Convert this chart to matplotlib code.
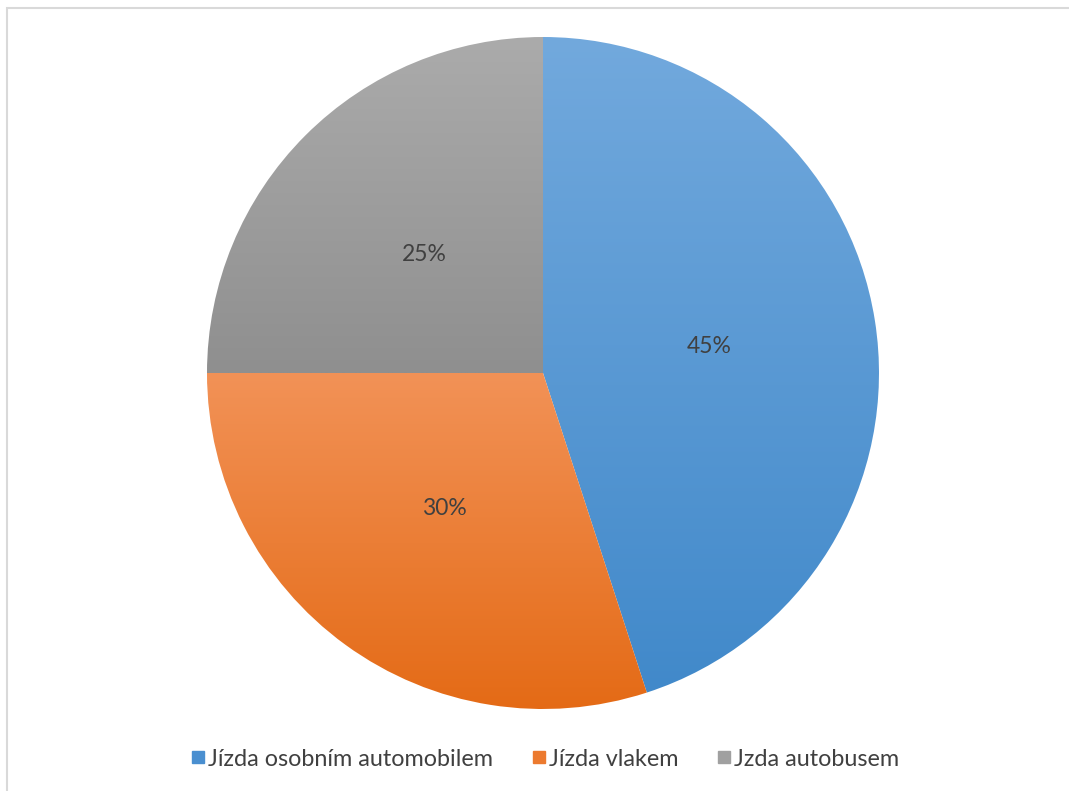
import numpy as np
import matplotlib.pyplot as plt
from matplotlib.colors import LinearSegmentedColormap
from matplotlib.patches import Rectangle
from matplotlib.lines import Line2D

labels = ['Jízda osobním automobilem', 'Jízda vlakem', 'Jzda autobusem']
values = [45, 30, 25]
# top / bottom colours of each slice gradient
top_colors = ['#72A9DD', '#F29257', '#ABABAB']
bottom_colors = ['#4189CA', '#E46A15', '#8F8F8F']
legend_colors = ['#4A8FD0', '#EC7A2F', '#A0A0A0']

plt.rcParams['font.family'] = ['Lato', 'DejaVu Sans']

W, H = 1069, 791
fig = plt.figure(figsize=(W / 100, H / 100), dpi=100)

# light border round the chart area (right/bottom edges run off the image)
fig.patches.append(Rectangle((7 / W, -0.1), 1.2, (H - 8) / H + 0.1, transform=fig.transFigure,
                             fill=False, edgecolor='#D9D9D9', lw=1.5))

cx, cy, r = 543, H - 373, 336
ax = fig.add_axes([(cx - r) / W, (cy - r) / H, 2 * r / W, 2 * r / H])
wedges, texts, autotexts = ax.pie(values, startangle=90, counterclock=False, radius=1,
                                  autopct='%d%%', pctdistance=0.5,
                                  textprops=dict(color='#404040', fontsize=16.5))
ax.set_xlim(-1, 1)
ax.set_ylim(-1, 1)
ax.set_aspect('equal')
ax.axis('off')

grad = np.linspace(0, 1, 256).reshape(-1, 1)
for w, c0, c1 in zip(wedges, top_colors, bottom_colors):
    w.set_facecolor('none')
    w.set_edgecolor('none')
    verts = w.get_path().vertices
    x0, x1 = verts[:, 0].min(), verts[:, 0].max()
    y0, y1 = verts[:, 1].min(), verts[:, 1].max()
    cmap = LinearSegmentedColormap.from_list('g', [c0, c1])
    im = ax.imshow(grad, cmap=cmap, extent=[x0, x1, y0, y1], origin='upper',
                   aspect='auto', zorder=1)
    im.set_clip_path(w)
for t in autotexts:
    t.set_zorder(3)
ax.set_xlim(-1, 1)
ax.set_ylim(-1, 1)

handles = [Line2D([], [], marker='s', linestyle='none', markersize=8,
                  markerfacecolor=c, markeredgecolor=c) for c in legend_colors]
fig.legend(handles, labels, loc='center', bbox_to_anchor=(544 / W, 1 - 759 / H),
           ncol=3, frameon=False, fontsize=16.8, handletextpad=0.05, columnspacing=1.6,
           labelcolor='#404040', handlelength=0.75)

fig.savefig('out.png', dpi=100)
